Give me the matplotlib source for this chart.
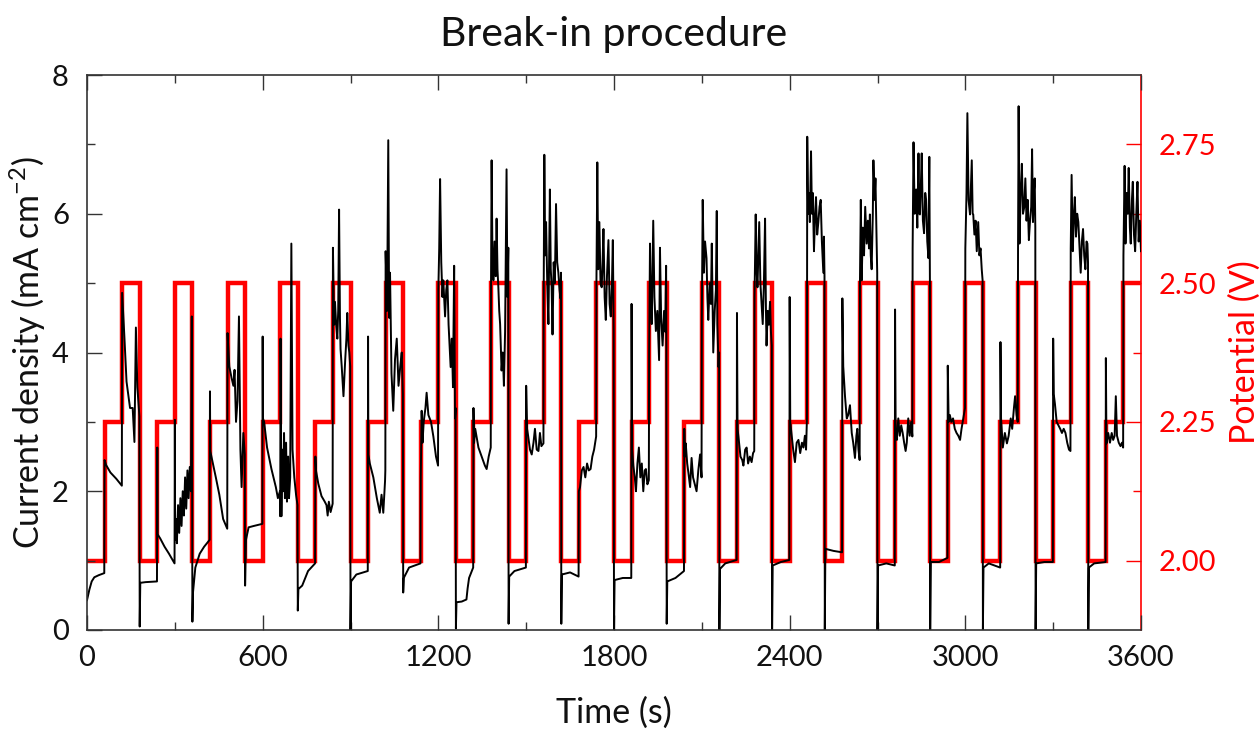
import matplotlib.pyplot as plt
from matplotlib.ticker import MultipleLocator, FixedLocator, FormatStrFormatter

# current density trace (mA cm-2), one row per 180 s cycle
time_s = [
    0, 8, 16, 25, 40, 59, 60, 65, 80, 100, 119, 120, 128, 135, 147, 156, 162, 167, 172, 179,
    180, 182, 200, 239, 240, 241, 250, 265, 280, 299, 300, 301, 304, 307, 311, 315, 319, 323, 327, 331,
    335, 339, 343, 347, 351, 355, 358, 359,
    360, 362, 370, 385, 400, 419, 420, 421, 430, 440, 452, 465, 479, 480, 486, 494, 500, 504, 509, 514,
    519, 524, 528, 534, 539,
    540, 543, 552, 570, 599, 600, 601, 605, 615, 630, 645, 652, 659, 660, 661, 664, 667, 670, 673, 676,
    680, 683, 687, 690, 694, 698, 702, 708, 714, 719,
    720, 722, 735, 755, 779, 780, 782, 790, 801, 812, 818, 822, 826, 832, 839, 840, 844, 847, 851, 855,
    858, 861, 864, 866, 870, 876, 882, 886, 889, 893, 896, 899,
    900, 902, 920, 959, 960, 961, 966, 978, 990, 1000, 1006, 1012, 1018, 1019, 1020, 1025, 1029, 1032,
    1035, 1040, 1046, 1052, 1058, 1064, 1070, 1075, 1079,
    1080, 1082, 1100, 1139, 1140, 1143, 1146, 1150, 1156, 1160, 1166, 1175, 1183, 1192, 1199, 1200,
    1203, 1206, 1210, 1214, 1217, 1223, 1227, 1231, 1235, 1238, 1242, 1246, 1250, 1254, 1257, 1259,
    1260, 1262, 1280, 1296, 1300, 1305, 1319, 1320, 1322, 1326, 1337, 1348, 1359, 1365, 1372, 1379,
    1380, 1382, 1385, 1388, 1392, 1396, 1399, 1402, 1405, 1408, 1411, 1416, 1420, 1424, 1428, 1433,
    1436, 1439,
    1440, 1442, 1460, 1499, 1500, 1503, 1507, 1513, 1519, 1525, 1530, 1536, 1542, 1547, 1552, 1559,
    1560, 1562, 1565, 1568, 1572, 1576, 1581, 1584, 1587, 1590, 1594, 1598, 1602, 1606, 1610, 1614,
    1617, 1619,
    1620, 1622, 1650, 1679, 1680, 1684, 1690, 1696, 1702, 1708, 1714, 1720, 1726, 1732, 1739, 1740,
    1743, 1746, 1750, 1754, 1758, 1761, 1764, 1768, 1772, 1776, 1781, 1785, 1789, 1793, 1796, 1799,
    1800, 1802, 1830, 1859, 1860, 1862, 1866, 1871, 1875, 1880, 1885, 1890, 1895, 1900, 1905, 1909,
    1914, 1919, 1920, 1923, 1926, 1929, 1934, 1938, 1943, 1948, 1954, 1957, 1961, 1966, 1971, 1975,
    1978, 1979,
    1980, 1982, 2010, 2039, 2040, 2042, 2045, 2050, 2054, 2060, 2065, 2070, 2076, 2082, 2088, 2094,
    2099, 2100, 2103, 2107, 2111, 2116, 2119, 2122, 2127, 2131, 2134, 2139, 2144, 2148, 2151, 2153,
    2157, 2159,
    2160, 2162, 2180, 2219, 2220, 2222, 2225, 2232, 2238, 2242, 2248, 2253, 2258, 2264, 2270, 2275,
    2279, 2280, 2284, 2287, 2290, 2293, 2296, 2300, 2304, 2308, 2312, 2316, 2319, 2321, 2325, 2329,
    2333, 2336, 2339,
    2340, 2342, 2370, 2399, 2400, 2402, 2406, 2412, 2418, 2424, 2430, 2436, 2442, 2447, 2452, 2456,
    2459, 2460, 2463, 2466, 2469, 2473, 2476, 2479, 2483, 2487, 2490, 2494, 2498, 2502, 2506, 2510,
    2515, 2517, 2519,
    2520, 2522, 2550, 2579, 2580, 2583, 2589, 2595, 2600, 2606, 2612, 2617, 2623, 2628, 2631, 2635,
    2639, 2640, 2643, 2646, 2650, 2654, 2658, 2663, 2667, 2671, 2674, 2677, 2680, 2684, 2686, 2690,
    2693, 2696, 2699,
    2700, 2702, 2730, 2759, 2760, 2762, 2766, 2771, 2776, 2781, 2786, 2791, 2796, 2800, 2805, 2810,
    2815, 2819, 2820, 2823, 2827, 2832, 2836, 2840, 2843, 2845, 2848, 2851, 2855, 2859, 2863, 2866,
    2870, 2874, 2877, 2879,
    2880, 2882, 2910, 2939, 2940, 2943, 2947, 2952, 2958, 2964, 2970, 2976, 2982, 2987, 2991, 2995,
    2999, 3000, 3004, 3007, 3011, 3016, 3019, 3022, 3025, 3027, 3031, 3035, 3039, 3042, 3044, 3048,
    3052, 3056, 3059,
    3060, 3062, 3080, 3119, 3120, 3122, 3128, 3135, 3142, 3148, 3155, 3160, 3166, 3170, 3175, 3179,
    3180, 3182, 3185, 3189, 3193, 3197, 3201, 3205, 3209, 3213, 3217, 3221, 3225, 3228, 3231, 3234,
    3237, 3239,
    3240, 3242, 3270, 3299, 3300, 3302, 3306, 3312, 3318, 3324, 3330, 3336, 3342, 3348, 3354, 3359,
    3360, 3363, 3367, 3371, 3374, 3378, 3382, 3386, 3390, 3394, 3398, 3402, 3406, 3410, 3414, 3417,
    3419,
    3420, 3422, 3440, 3479, 3480, 3482, 3488, 3494, 3500, 3505, 3510, 3514, 3518, 3524, 3530, 3535,
    3539, 3540, 3544, 3547, 3551, 3555, 3558, 3562, 3565, 3569, 3572, 3576, 3580, 3584, 3588, 3592,
    3596, 3600,
]

current_density = [
    0.43, 0.58, 0.70, 0.76, 0.79, 0.82, 2.45, 2.38, 2.27, 2.18, 2.08, 4.86, 4.20, 3.58, 3.20, 3.20, 2.71, 4.36, 3.50, 3.08,
    0.05, 0.68, 0.69, 0.70, 2.63, 1.38, 1.32, 1.20, 1.10, 0.96, 3.03, 1.30, 1.60, 1.25, 1.80, 1.40, 1.90, 1.50, 2.00, 1.65,
    2.20, 1.75, 2.30, 1.90, 2.35, 2.00, 4.52, 2.50,
    0.12, 0.54, 0.90, 1.10, 1.20, 1.30, 3.44, 2.58, 2.40, 2.20, 1.95, 1.60, 1.46, 4.28, 3.80, 3.63, 3.52, 3.75, 3.00, 3.30,
    4.52, 2.60, 2.06, 2.84, 2.53,
    0.64, 1.30, 1.48, 1.50, 1.53, 4.23, 3.05, 3.00, 2.63, 2.32, 2.06, 1.90, 2.00, 1.64, 4.20, 1.64, 2.60, 2.00, 2.84, 1.90,
    2.70, 1.85, 2.50, 1.90, 2.20, 5.57, 2.60, 2.20, 1.95, 1.80,
    0.28, 0.59, 0.64, 0.85, 0.96, 2.50, 2.30, 2.11, 1.93, 1.85, 1.80, 1.65, 1.85, 1.70, 1.82, 5.51, 4.40, 4.73, 4.40, 4.20,
    4.60, 6.06, 4.50, 4.05, 3.80, 3.37, 3.90, 4.20, 4.57, 4.10, 4.00, 3.80,
    0.00, 0.70, 0.80, 0.85, 4.23, 2.53, 2.40, 2.20, 1.90, 1.69, 1.95, 1.69, 2.15, 2.30, 5.46, 4.60, 7.06, 4.50,
    5.15, 3.70, 3.16, 3.90, 4.20, 3.52, 3.80, 4.00, 3.40,
    0.54, 0.75, 0.90, 0.96, 2.20, 3.16, 2.70, 3.00, 3.20, 3.42, 3.10, 3.00, 2.79, 2.50, 2.37, 4.90,
    5.50, 6.50, 5.30, 4.80, 5.04, 4.52, 4.90, 5.04, 4.40, 4.15, 3.79, 4.20, 3.50, 5.25, 3.05, 3.20,
    0.02, 0.40, 0.41, 0.44, 0.60, 0.75, 0.90, 3.20, 2.70, 2.90, 2.63, 2.50, 2.37, 2.32, 2.50, 2.63,
    5.00, 6.77, 5.30, 5.04, 5.60, 5.10, 5.93, 5.20, 4.94, 4.60, 4.41, 3.74, 4.00, 3.52, 4.30, 6.64,
    4.80, 5.51,
    0.09, 0.77, 0.85, 0.90, 3.52, 2.90, 2.79, 2.60, 2.53, 2.70, 2.90, 2.60, 2.58, 2.84, 2.65, 2.69,
    5.00, 6.85, 5.40, 5.88, 5.00, 4.41, 6.35, 5.20, 4.94, 4.26, 5.30, 5.00, 6.14, 5.30, 5.15, 4.90,
    4.78, 5.15,
    0.09, 0.80, 0.83, 0.77, 2.00, 2.06, 2.30, 2.35, 2.20, 2.40, 2.30, 2.32, 2.50, 2.60, 2.79, 5.00,
    6.74, 5.20, 5.88, 5.00, 4.94, 5.30, 5.78, 4.80, 4.47, 5.10, 5.62, 4.70, 4.52, 5.00, 5.62, 4.31,
    0.00, 0.72, 0.75, 0.75, 4.70, 2.60, 2.37, 2.20, 2.00, 2.40, 2.63, 2.20, 2.40, 2.00, 2.30, 2.32,
    2.10, 2.16, 4.00, 5.57, 4.70, 4.41, 5.90, 4.80, 4.31, 4.60, 3.89, 5.51, 4.50, 4.10, 4.60, 4.30,
    5.25, 4.00,
    0.09, 0.70, 0.75, 0.85, 2.90, 2.50, 2.69, 2.40, 2.27, 2.06, 2.48, 2.20, 2.10, 2.00, 2.30, 2.53,
    2.20, 4.50, 6.20, 5.15, 5.60, 5.36, 4.80, 4.47, 5.00, 4.70, 5.57, 4.00, 4.60, 4.90, 6.04, 4.41,
    3.79, 4.00,
    0.00, 0.88, 0.96, 1.01, 4.57, 2.90, 2.79, 2.50, 2.45, 2.37, 2.60, 2.63, 2.40, 2.50, 2.42, 2.55,
    2.58, 4.80, 5.99, 5.20, 4.94, 5.40, 5.88, 5.00, 4.70, 4.41, 5.00, 5.93, 4.60, 4.10, 4.60, 4.40,
    4.73, 4.30, 4.10,
    0.00, 0.93, 0.98, 1.01, 4.80, 3.00, 2.84, 2.60, 2.42, 2.70, 2.74, 2.55, 2.70, 2.63, 2.80, 2.60,
    3.05, 7.11, 6.00, 6.30, 5.88, 6.90, 6.00, 6.30, 5.46, 6.00, 6.24, 5.70, 5.88, 6.10, 6.20, 5.60,
    5.15, 5.67, 5.10,
    0.00, 1.17, 1.14, 1.12, 4.78, 3.80, 3.37, 3.05, 3.10, 3.24, 2.84, 2.70, 2.48, 2.80, 2.90, 2.60,
    2.45, 5.00, 6.20, 5.04, 5.80, 5.40, 6.10, 5.57, 5.90, 5.50, 5.99, 5.40, 5.20, 6.00, 6.77, 6.20,
    6.51, 5.80, 5.15,
    0.00, 0.93, 0.96, 0.93, 4.62, 2.90, 2.74, 3.05, 2.80, 2.95, 2.84, 2.70, 2.58, 2.70, 3.05, 2.80,
    3.00, 2.79, 5.50, 7.03, 6.00, 6.35, 5.80, 6.87, 6.00, 5.99, 6.40, 6.87, 5.90, 5.72, 6.30, 6.20,
    5.60, 5.36, 6.82, 5.04,
    0.00, 0.98, 0.98, 1.04, 3.81, 3.00, 3.10, 3.00, 3.05, 2.90, 2.84, 2.80, 2.74, 2.90, 3.00, 3.10,
    3.20, 5.50, 6.30, 7.45, 6.20, 5.99, 6.40, 6.77, 6.00, 5.99, 5.70, 5.90, 5.46, 5.70, 5.88, 5.40,
    5.50, 5.20, 5.04,
    0.00, 0.90, 0.96, 0.90, 4.15, 3.05, 2.63, 2.84, 2.69, 2.80, 3.05, 2.90, 3.20, 3.37, 3.10, 3.00,
    5.50, 7.55, 5.57, 6.30, 6.72, 6.00, 6.09, 6.51, 5.90, 6.20, 5.62, 5.90, 6.10, 6.93, 5.88, 6.30,
    6.51, 5.80,
    0.00, 0.96, 0.98, 0.98, 4.20, 3.40, 3.26, 3.00, 2.95, 2.90, 2.84, 2.90, 2.84, 2.70, 2.60, 2.58,
    5.50, 6.56, 5.46, 6.00, 6.24, 5.67, 6.00, 5.88, 5.50, 5.15, 5.60, 5.78, 5.40, 5.20, 5.60, 5.57,
    5.30,
    0.00, 0.90, 0.96, 0.98, 3.92, 2.69, 2.84, 2.70, 2.84, 2.74, 2.80, 3.37, 2.80, 2.70, 2.65, 2.70,
    2.63, 5.40, 6.69, 5.57, 6.30, 6.00, 6.66, 5.80, 5.57, 6.20, 6.46, 5.70, 5.46, 6.00, 6.46, 5.60,
    5.90, 5.46,
]

# applied potential: 60 s holds at 2.00 / 2.25 / 2.50 V, 20 cycles
step_levels = [2.00, 2.25, 2.50]
step_s = 60
n_cycles = 20

step_t = [i * step_s for i in range(3 * n_cycles + 1)]
step_v = step_levels * n_cycles + [step_levels[-1]]

plt.rcParams["font.family"] = ["Lato", "DejaVu Sans"]
plt.rcParams["mathtext.fontset"] = "custom"
plt.rcParams["mathtext.rm"] = "Lato"
plt.rcParams["mathtext.it"] = "Lato:italic"

RED = "#ff0000"
INK = "#111111"
SPINE = "#333333"

fig = plt.figure(figsize=(12.59, 7.32), dpi=100)
ax = fig.add_axes([87 / 1259, 1 - 630 / 732, 1054 / 1259, 555 / 732])
ax2 = ax.twinx()

# potential on the twin axis, current drawn over it
ax2.step(step_t, step_v, where="post", color=RED, lw=3.2, solid_joinstyle="miter")
ax.plot(time_s, current_density, color="black", lw=1.4)
ax.set_zorder(ax2.get_zorder() + 1)
ax.patch.set_visible(False)

ax.set_xlim(0, 3600)
ax.set_ylim(0, 8)
ax2.set_ylim(1.875, 2.875)

ax.xaxis.set_major_locator(MultipleLocator(600))
ax.xaxis.set_minor_locator(MultipleLocator(300))
ax.yaxis.set_major_locator(MultipleLocator(2))
ax.yaxis.set_minor_locator(MultipleLocator(1))
ax2.yaxis.set_major_locator(FixedLocator([2.00, 2.25, 2.50, 2.75]))
ax2.yaxis.set_minor_locator(FixedLocator([2.125, 2.375, 2.625]))
ax2.yaxis.set_major_formatter(FormatStrFormatter("%.2f"))

ax.tick_params(axis="both", which="both", direction="in", top=True, right=False,
               color=SPINE, width=1.0, labelsize=21, labelcolor=INK)
ax.tick_params(axis="both", which="major", length=11)
ax.tick_params(axis="both", which="minor", length=5.8)
ax.tick_params(axis="x", pad=11)
ax.tick_params(axis="y", pad=13)
ax2.tick_params(axis="y", which="both", direction="in", color=RED, width=1.0,
                labelsize=21, labelcolor=RED, pad=13)
ax2.tick_params(axis="y", which="major", length=11)
ax2.tick_params(axis="y", which="minor", length=5.8)

for side in ["left", "top", "bottom"]:
    ax.spines[side].set_color(SPINE)
    ax.spines[side].set_linewidth(1.2)
ax.spines["right"].set_visible(False)
for side in ["left", "top", "bottom"]:
    ax2.spines[side].set_visible(False)
ax2.spines["right"].set_color(RED)
ax2.spines["right"].set_linewidth(1.2)

ax.set_title("Break-in procedure", fontsize=29.5, color=INK, pad=21)
ax.set_xlabel("Time (s)", fontsize=24.5, color=INK)
ax.set_ylabel("Current density (mA cm$^{-2}$)", fontsize=24.5, color=INK)
ax2.set_ylabel("Potential (V)", fontsize=24.5, color=RED)
ax.xaxis.set_label_coords(0.5, -0.12)
ax.yaxis.set_label_coords(-0.037, 0.5)
ax2.yaxis.set_label_coords(1.083, 0.5)

fig.savefig("out.png", dpi=100)
